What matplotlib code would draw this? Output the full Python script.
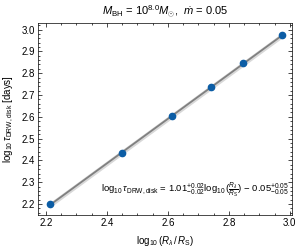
import numpy as np
import matplotlib
matplotlib.use('Agg')
import matplotlib.pyplot as plt
from matplotlib.ticker import MultipleLocator

# data
log_r = [2.213, 2.448, 2.614, 2.743, 2.848, 2.976]
log_tau = [2.200, 2.432, 2.602, 2.736, 2.846, 2.976]
slope_err = [0.02, 0.02]
icpt_err = [0.05, 0.05]

plt.rcParams['font.family'] = ['Liberation Sans', 'DejaVu Sans']
plt.rcParams['mathtext.fontset'] = 'custom'
plt.rcParams['mathtext.rm'] = 'Liberation Sans'
plt.rcParams['mathtext.it'] = 'Liberation Sans:italic'
plt.rcParams['mathtext.bf'] = 'Liberation Sans:bold'

fig = plt.figure(figsize=(3, 2.5), dpi=100)
ax = fig.add_axes([0.127, 0.14, 0.846, 0.768])

# straight-line fit through the points, with a thin uncertainty band
p = np.polyfit(log_r, log_tau, 1)
xx = np.array([min(log_r), max(log_r)])
yy = np.polyval(p, xx)
ax.fill_between(xx, yy - 0.012, yy + 0.012, color='gray', alpha=0.3, lw=0)
ax.plot(xx, yy, color='gray', lw=1.3)
ax.plot(log_r, log_tau, 'o', color='#0C5DA5', markersize=4.5, zorder=3)

ax.set_xlim(2.174, 3.007)
ax.set_ylim(2.15, 3.03)
ax.xaxis.set_major_locator(MultipleLocator(0.2))
ax.xaxis.set_minor_locator(MultipleLocator(0.05))
ax.yaxis.set_major_locator(MultipleLocator(0.1))
ax.yaxis.set_minor_locator(MultipleLocator(0.02))
ax.tick_params(which='both', direction='in', top=True, right=True, labelsize=7, pad=2.5)
ax.tick_params(which='major', length=3, width=0.5)
ax.tick_params(which='minor', length=1.5, width=0.5)
for s in ax.spines.values():
    s.set_linewidth(0.5)

ax.set_xlabel(r'$\log_{10}(R_{\lambda}\,/\,R_{\rm S})$', fontsize=7, labelpad=4)
ax.set_ylabel(r'$\log_{10}\tau_{\rm DRW,disk}$ [days]', fontsize=7, labelpad=4)
ax.set_title(r'$M_{\rm BH}$ = $10^{8.0}M_{\odot}$,  $\dot{m}$ = 0.05', fontsize=8, pad=5)

ax.text(0.99, 0.13,
        r'$\log_{10}\tau_{\rm DRW,disk}$ = $1.01^{+%.2f}_{-%.2f}\log_{10}(\frac{R_{\lambda}}{R_{\rm S}})$ $-$ $0.05^{+%.2f}_{-%.2f}$'
        % (slope_err[0], slope_err[1], icpt_err[0], icpt_err[1]),
        transform=ax.transAxes, ha='right', va='center', fontsize=6.8)

plt.savefig('out.png', dpi=100)
